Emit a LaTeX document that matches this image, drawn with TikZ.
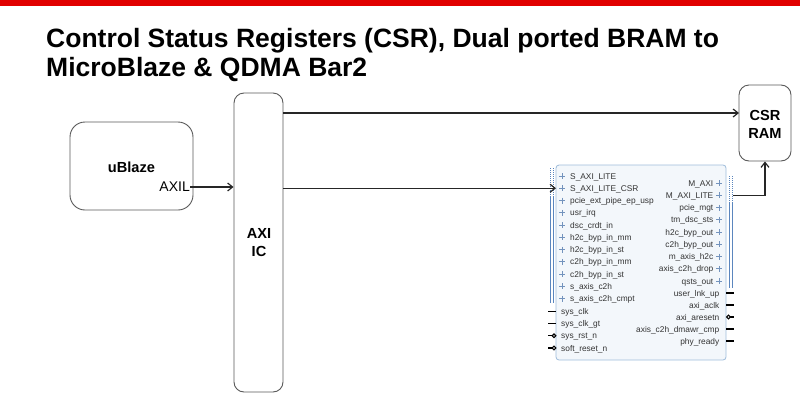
\documentclass[tikz,border=0pt]{standalone}
\usepackage{fontspec}
\setmainfont{Liberation Sans}
\usetikzlibrary{arrows.meta}
\definecolor{ipfill}{HTML}{F3F7FB}
\definecolor{ipedge}{HTML}{9EBCDA}
\definecolor{busblue}{HTML}{5B86BE}
\definecolor{plusblue}{HTML}{7393BD}
\definecolor{titlered}{HTML}{E10000}
\tikzset{
  box/.style={draw=black!65, line width=0.9pt, fill=white},
  conn/.style={draw=black!85, line width=1.2pt, -{Straight Barb[length=5pt,width=8pt]}},
  pintxt/.style={font=\fontsize{8.35}{9}\selectfont, text=black!80, inner sep=0pt},
  plusmark/.style={draw=plusblue, line width=0.8pt},
  scalarpin/.style={draw=black, line width=1.3pt},
  busbar/.style={draw=busblue, line width=1pt},
  busdot/.style={draw=busblue, line width=1pt, dash pattern=on 1pt off 1pt},
  boxtxt/.style={font=\bfseries\fontsize{14.6}{18}\selectfont, align=center, inner sep=0pt},
  titletxt/.style={font=\bfseries\fontsize{26.5}{30}\selectfont, anchor=base west, inner sep=0pt}
}
\begin{document}
\begin{tikzpicture}[x=1pt,y=-1pt]
\useasboundingbox (0,0) rectangle (800,418);
\fill[titlered] (0,0) rectangle (800,6);
\node[titletxt] (title1) at (46,47.5) {Control Status Registers (CSR), Dual ported BRAM to};
\node[titletxt] (title2) at (46,76.5) {MicroBlaze \& QDMA Bar2};

% uBlaze
\node[box, rounded corners=15pt, minimum width=123pt, minimum height=88pt] (ub) at (131.5,166) {};
\node[boxtxt] (ubl) at (131.5,167) {uBlaze};
\node[font=\fontsize{14}{16}\selectfont, anchor=east, inner sep=0pt] (axil) at (190,187) {AXIL};

% AXI IC
\node[box, rounded corners=10pt, minimum width=49pt, minimum height=299pt] (axi) at (258.5,242.5) {};
\node[boxtxt] (axil2) at (259,242.5) {AXI\\IC};

% CSR RAM
\node[box, rounded corners=10pt, minimum width=52pt, minimum height=76pt] (csr) at (765,123) {};
\node[boxtxt] (csrl) at (765,124) {CSR\\RAM};

% QDMA IP block
\node[draw=ipedge, fill=ipfill, line width=0.8pt, rounded corners=3pt, minimum width=170pt, minimum height=195pt] (qdma) at (641,262.5) {};

% left bus pins
\foreach \lbl [count=\i] in {S\_AXI\_LITE, S\_AXI\_LITE\_CSR, pcie\_ext\_pipe\_ep\_usp, usr\_irq, dsc\_crdt\_in, h2c\_byp\_in\_mm, h2c\_byp\_in\_st, c2h\_byp\_in\_mm, c2h\_byp\_in\_st, s\_axis\_c2h, s\_axis\_c2h\_cmpt}{
  \pgfmathsetmacro\yy{176+(\i-1)*12.25}
  \node[pintxt, anchor=base west] (L\i) at (570,\yy+3) {\lbl};
  \coordinate (pL\i) at (556,\yy);
  \draw[plusmark] (559,\yy) -- (565,\yy) (562,\yy-3) -- (562,\yy+3);
}
\draw[busdot] (550,168) -- (550,195) (553,168) -- (553,195);
\draw[busbar] (550,196) -- (550,303) (553,196) -- (553,303);

% left scalar pins
\foreach \lbl/\yy/\inv [count=\i] in {sys\_clk/311.5/0, sys\_clk\_gt/323.5/0, sys\_rst\_n/335.8/1, soft\_reset\_n/348/1}{
  \node[pintxt, anchor=base west] (LS\i) at (561,\yy+3) {\lbl};
  \ifnum\inv=0
    \draw[scalarpin] (548,\yy) -- (556,\yy);
  \else
    \draw[scalarpin] (548,\yy) -- (552,\yy);
    \draw[black, line width=1.1pt, fill=white] (554,\yy) circle (1.8pt);
  \fi
}

% right bus pins
\foreach \lbl [count=\i] in {M\_AXI, M\_AXI\_LITE, pcie\_mgt, tm\_dsc\_sts, h2c\_byp\_out, c2h\_byp\_out, m\_axis\_h2c, axis\_c2h\_drop, qsts\_out}{
  \pgfmathsetmacro\yy{183+(\i-1)*12.25}
  \node[pintxt, anchor=base east] (R\i) at (713.5,\yy+3) {\lbl};
  \coordinate (pR\i) at (733,\yy);
  \draw[plusmark] (716,\yy) -- (722,\yy) (719,\yy-3) -- (719,\yy+3);
}
\draw[busdot] (729,176) -- (729,201) (732,176) -- (732,201);
\draw[busbar] (729,202) -- (729,288) (732,202) -- (732,288);

% right scalar pins
\foreach \lbl/\yy/\inv [count=\i] in {user\_lnk\_up/293/0, axi\_aclk/305/0, axi\_aresetn/317/1, axis\_c2h\_dmawr\_cmp/329/0, phy\_ready/341/0}{
  \node[pintxt, anchor=base east] (RS\i) at (719.5,\yy+3) {\lbl};
  \ifnum\inv=0
    \draw[scalarpin] (726,\yy) -- (734,\yy);
  \else
    \draw[scalarpin] (730,\yy) -- (734,\yy);
    \draw[black, line width=1.1pt, fill=white] (728.5,\yy) circle (1.8pt);
  \fi
}

% connectors
\coordinate (csrin) at (739,113);
\draw[conn] (axil.east) -- (axi.west |- axil.east);
\draw[conn] (axi.east |- csrin) -- (csrin);
\draw[conn] (axi.east |- pL2) -- (pL2);
\draw[conn] (pR2) -| (csr.south);
\end{tikzpicture}
\end{document}
